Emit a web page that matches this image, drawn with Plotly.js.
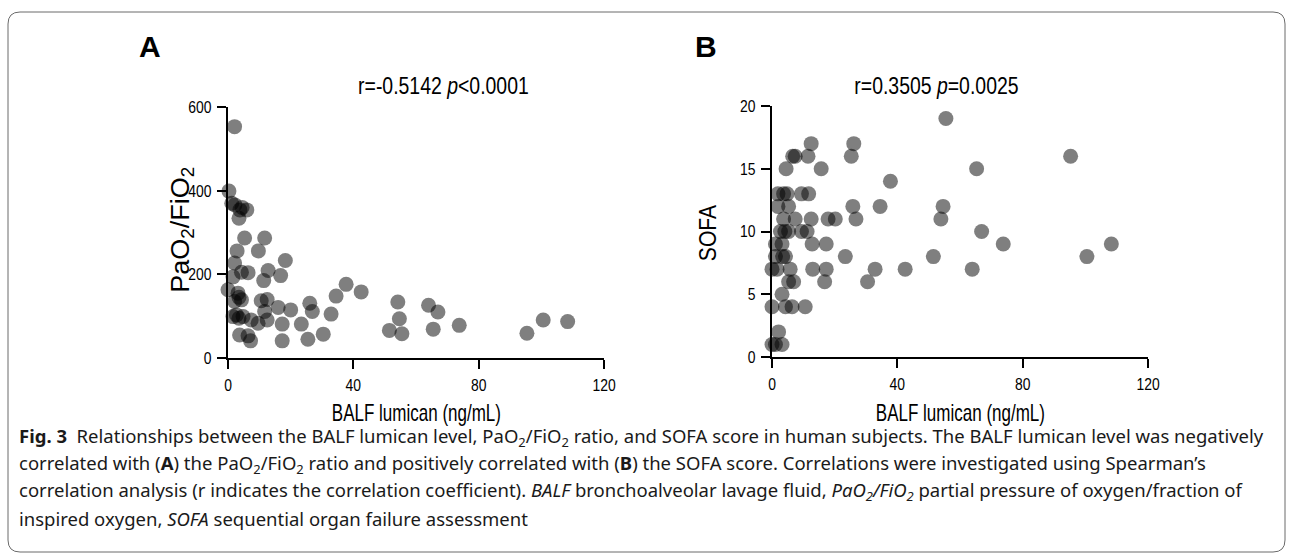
<!DOCTYPE html>
<html>
<head>
<meta charset="utf-8">
<script src="https://cdn.plot.ly/plotly-3.0.1.min.js"></script>
<style>
html,body{margin:0;padding:0;background:#fff;}
#chart{width:1293px;height:555px;}
</style>
</head>
<body>
<div id="chart"></div>
<script>
// Panel A: BALF lumican (ng/mL) vs PaO2/FiO2
const lumicanA = [2.1,0.3,2.2,1.2,3.8,4.5,6.0,3.5,5.3,11.7,2.9,9.7,18.3,2.1,12.8,16.8,4.3,6.4,1.6,11.4,0.0,3.2,4.3,2.1,3.5,10.6,12.5,16.0,20.0,26.1,26.9,11.7,2.7,1.6,4.8,3.5,7.4,9.6,12.5,17.3,23.4,3.7,6.4,7.2,17.3,25.5,
  37.7,34.5,42.5,32.9,30.4,54.2,54.7,51.5,55.5,64.0,67.0,65.5,73.8,95.4,100.6,108.4];
const pfRatio = [553,399,366,370,354,360,354,334,287,287,256,256,233,227,209,197,205,204,194,185,163,155,139,135,145,137,140,121,115,131,111,111,103,99,99,95,91,83,91,81,81,55,53,41,41,45,
  176,148,158,105,57,134,94,66,58,126,110,69,78,59,91,87];

// Panel B: BALF lumican (ng/mL) vs SOFA
const lumicanB = [12.5,26.1,6.6,7.4,11.5,25.3,4.5,15.7,1.9,3.7,4.8,9.4,11.7,1.9,5.3,25.8,3.7,7.4,12.5,17.9,20.2,26.8,2.7,4.1,5.3,9.4,11.2,1.1,3.2,12.8,17.3,1.1,3.4,4.3,23.4,0.0,1.6,5.8,13.0,17.3,5.3,6.9,16.8,3.2,0.0,4.3,6.4,10.6,2.1,0.0,1.1,3.2,
  55.5,95.3,65.3,37.8,34.5,54.6,53.9,66.9,73.8,108.3,100.5,51.5,32.9,42.5,63.9,30.5];
const sofa = [17,17,16,16,16,16,15,15,13,13,13,13,13,12,12,12,11,11,11,11,11,11,10,10,10,10,10,9,9,9,9,8,8,8,8,7,7,7,7,7,6,6,6,5,4,4,4,4,2,1,1,1,
  19,16,15,14,12,12,11,10,9,9,8,8,7,7,7,6];

const xTicks = [0,40,80,120];
const yTicksA = [0,200,400,600];
const yTicksB = [0,5,10,15,20];

const W = 1293, H = 555;
const px = v => v / W;
const py = v => 1 - v / H;

const chartFont = 'Liberation Sans, Arial, sans-serif';
const tickFont = {family:chartFont, size:17, color:'#000'};
const marker = {size:15, color:'rgba(0,0,0,0.5)', line:{width:0}};

const traces = [
  {x:lumicanA, y:pfRatio, type:'scatter', mode:'markers', marker:marker, xaxis:'x', yaxis:'y', cliponaxis:false, hoverinfo:'x+y'},
  {x:lumicanB, y:sofa, type:'scatter', mode:'markers', marker:marker, xaxis:'x2', yaxis:'y2', cliponaxis:false, hoverinfo:'x+y'}
];

function axisBase(){
  return {showgrid:false, zeroline:false, showline:true, linecolor:'#000', linewidth:2,
    ticks:'outside', ticklen:9, tickwidth:2, tickcolor:'#000', tickfont:tickFont, fixedrange:true,
    ticklabelstandoff:2};
}

const layout = {
  width:W, height:H, autosize:false,
  margin:{l:0,r:0,t:0,b:0,pad:0},
  paper_bgcolor:'#fff', plot_bgcolor:'rgba(0,0,0,0)',
  showlegend:false,
  xaxis: Object.assign(axisBase(), {domain:[px(228),px(604)], range:[0,120], tickvals:xTicks, anchor:'y'}),
  yaxis: Object.assign(axisBase(), {domain:[py(358),py(107)], range:[0,600], tickvals:yTicksA, anchor:'x'}),
  xaxis2: Object.assign(axisBase(), {domain:[px(772),px(1148)], range:[0,120], tickvals:xTicks, anchor:'y2'}),
  yaxis2: Object.assign(axisBase(), {domain:[py(357),py(106)], range:[0,20], tickvals:yTicksB, anchor:'x2'}),
  shapes:[{
    type:'path', xref:'paper', yref:'paper', layer:'below',
    path: (function(){
      const l=px(8), r=px(1285), t=py(12), b=py(552), rx=12/W, ry=12/H;
      return `M ${l+rx} ${t} L ${r-rx} ${t} Q ${r} ${t} ${r} ${t-ry} L ${r} ${b+ry} Q ${r} ${b} ${r-rx} ${b} L ${l+rx} ${b} Q ${l} ${b} ${l} ${b+ry} L ${l} ${t-ry} Q ${l} ${t} ${l+rx} ${t} Z`;
    })(),
    line:{color:'#6b6b6b', width:1}, fillcolor:'rgba(0,0,0,0)'
  }],
  annotations:[]
};

const ann = layout.annotations;
const squeezeByIndex = [];
function addText(text, x, y, size, squeeze, opts){
  squeezeByIndex.push(squeeze);
  ann.push(Object.assign({text:text, xref:'paper', yref:'paper', x:px(x), y:py(y), showarrow:false,
    xanchor:'center', yanchor:'middle', font:{family:chartFont, size:size, color:'#000'}}, opts||{}));
}
addText('<b>A</b>', 150, 46, 30, 1);
addText('<b>B</b>', 706, 46, 30, 1);
addText('r=-0.5142 <i>p</i><0.0001', 443, 86, 24, 0.81);
addText('r=0.3505 <i>p</i>=0.0025', 936, 86, 24, 0.81);
addText('PaO<sub>2</sub>/FiO<sub>2</sub>', 182, 230, 25, 1.08, {textangle:-90});
addText('SOFA', 708, 233, 24, 0.88, {textangle:-90});
addText('BALF lumican (ng/mL)', 416, 413, 23, 0.74);
addText('BALF lumican (ng/mL)', 960, 413, 23, 0.74);

const capFont = 'Noto Sans, Open Sans, sans-serif';
const capLines = [
  '<b>Fig. 3</b>  Relationships between the BALF lumican level, PaO<sub>2</sub>/FiO<sub>2</sub> ratio, and SOFA score in human subjects. The BALF lumican level was negatively',
  'correlated with (<b>A</b>) the PaO<sub>2</sub>/FiO<sub>2</sub> ratio and positively correlated with (<b>B</b>) the SOFA score. Correlations were investigated using Spearman’s',
  'correlation analysis (r indicates the correlation coefficient). <i>BALF</i> bronchoalveolar lavage fluid, <i>PaO<sub>2</sub>/FiO<sub>2</sub></i> partial pressure of oxygen/fraction of',
  'inspired oxygen, <i>SOFA</i> sequential organ failure assessment'
];
const capY = [437, 464, 491, 518];
capLines.forEach((t,i)=>{
  ann.push({text:t, xref:'paper', yref:'paper', x:px(17), y:py(capY[i]), showarrow:false,
    xanchor:'left', yanchor:'middle', align:'left', font:{family:capFont, size:18.5, color:'#1a1a1a'}});
});

// Horizontally condense a text element (mimics the condensed face of the original figure)
function condense(t, s, anchor){
  if (s === 1) return;
  const b = t.getBBox();
  const cx = anchor === 'end' ? b.x + b.width : b.x + b.width / 2;
  const prev = t.getAttribute('transform') || '';
  t.setAttribute('transform', prev + ` translate(${cx},0) scale(${s},1) translate(${-cx},0)`);
}

Plotly.newPlot('chart', traces, layout, {displayModeBar:false, staticPlot:true}).then(gd => {
  gd.querySelectorAll('g.xtick text, g.x2tick text').forEach(t => condense(t, 0.82, 'middle'));
  gd.querySelectorAll('g.ytick text, g.y2tick text').forEach(t => condense(t, 0.82, 'end'));
  gd.querySelectorAll('g.annotation').forEach(g => {
    const i = +g.getAttribute('data-index');
    if (i < squeezeByIndex.length) {
      const t = g.querySelector('text.annotation-text');
      if (t) condense(t, squeezeByIndex[i], 'middle');
    }
  });
});
</script>
</body>
</html>
